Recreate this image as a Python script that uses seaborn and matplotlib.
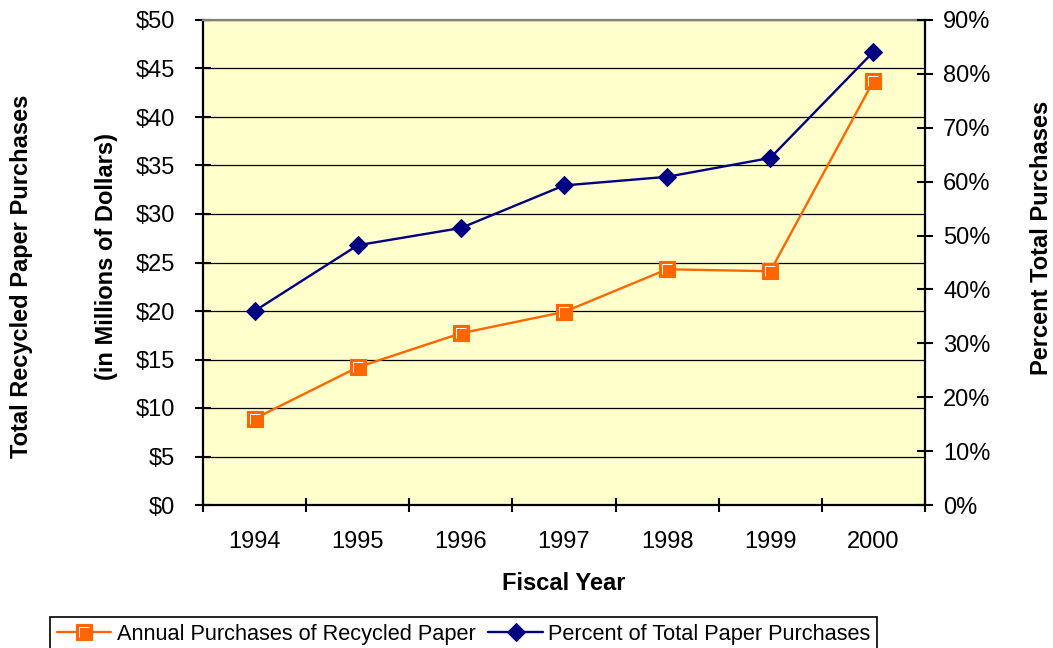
import matplotlib
matplotlib.use("Agg")
import matplotlib.pyplot as plt
import seaborn as sns
import numpy as np
import pandas as pd
from matplotlib.path import Path
from matplotlib.ticker import FixedLocator, FuncFormatter, MultipleLocator
from matplotlib.legend_handler import HandlerTuple

# ---- data ----
years = [1994, 1995, 1996, 1997, 1998, 1999, 2000]
recycled_musd = [8.9, 14.2, 17.7, 19.9, 24.3, 24.1, 43.7]
percent_total = [36.0, 48.2, 51.4, 59.3, 60.9, 64.4, 84.1]
series_names = ["Annual Purchases of Recycled Paper", "Percent of Total Paper Purchases"]

sns.set_theme(style="white")
plt.rcParams['font.family'] = ['Liberation Sans', 'DejaVu Sans']
plt.rcParams.update({"text.color": "black", "axes.labelcolor": "black",
                     "xtick.color": "black", "ytick.color": "black"})

ORANGE = "#FF6600"
NAVY = "#000080"
BG = "#FFFFCC"

W, H = 1053, 648
fig = plt.figure(figsize=(W / 100, H / 100), dpi=100)
ax = fig.add_axes([203 / W, 1 - 505 / H, 722 / W, 485 / H])
ax.set_facecolor(BG)

df = pd.DataFrame({"year": years, "usd": recycled_musd, "pct": percent_total})

sns.lineplot(data=df, x="year", y="usd", ax=ax, color=ORANGE, lw=1.7,
             marker="s", markersize=11.5, markerfacecolor=ORANGE,
             markeredgecolor=ORANGE, markeredgewidth=0.8, legend=False, zorder=3)
l_orange = ax.lines[-1]
# white highlight "L" inside square markers
Lpath = Path([(-1, -1), (-1, 1), (1, 1)], [Path.MOVETO, Path.LINETO, Path.LINETO])
sns.lineplot(data=df, x="year", y="usd", ax=ax, color="white", lw=0,
             marker=Lpath, markersize=7.5, markerfacecolor="none",
             markeredgecolor="white", markeredgewidth=0.7, legend=False, zorder=4)
l_hl = ax.lines[-1]
l_hl.set_linestyle("none")

ax.set_xlim(1993.5, 2000.5)
ax.set_ylim(0, 50)
ax.yaxis.set_major_locator(MultipleLocator(5))
ax.yaxis.set_major_formatter(FuncFormatter(lambda v, p: f"${v:.0f}"))
ax.grid(axis="y", color="black", lw=0.9)
ax.grid(axis="x", visible=False)
ax.set_axisbelow(True)

ax.xaxis.set_major_locator(FixedLocator(years))
ax.xaxis.set_major_formatter(FuncFormatter(lambda v, p: f"{int(round(v))}"))
ax.xaxis.set_minor_locator(FixedLocator(np.arange(1993.5, 2001, 1.0)))
ax.tick_params(axis="x", which="major", length=0, pad=19, labelsize=17, colors="black")
ax.tick_params(axis="x", which="minor", length=10, width=1.5, direction="inout", bottom=True, color="black")
ax.tick_params(axis="y", which="major", length=12, width=1.5, direction="inout", left=True,
               pad=14, labelsize=17, colors="black")
ax.set_xlabel("")
ax.set_ylabel("")

for s in ["left", "bottom"]:
    ax.spines[s].set_color("black")
    ax.spines[s].set_linewidth(1.6)
ax.spines["top"].set_color("#808080")
ax.spines["top"].set_linewidth(1.6)
ax.spines["right"].set_visible(False)

ax2 = ax.twinx()
sns.lineplot(data=df, x="year", y="pct", ax=ax2, color=NAVY, lw=1.7,
             marker="D", markersize=9, markerfacecolor=NAVY,
             markeredgecolor=NAVY, legend=False, zorder=3)
l_navy = ax2.lines[-1]
ax2.set_ylim(0, 90)
ax2.yaxis.set_major_locator(MultipleLocator(10))
ax2.yaxis.set_major_formatter(FuncFormatter(lambda v, p: f"{v:.0f}%"))
ax2.tick_params(axis="y", which="major", length=12, width=1.5, direction="inout", right=True,
                pad=7, labelsize=17, colors="black")
ax2.grid(False)
ax2.set_ylabel("")
for s in ["left", "bottom", "top"]:
    ax2.spines[s].set_visible(False)
ax2.spines["right"].set_color("black")
ax2.spines["right"].set_linewidth(1.6)
ax2.set_xlim(1993.5, 2000.5)

# axis titles
fig.text(22 / W, 1 - 276 / H, "Total Recycled Paper Purchases", rotation=90,
         ha="center", va="center", fontsize=17, fontweight="bold", color="black")
fig.text(106 / W, 1 - 257 / H, "(in Millions of Dollars)", rotation=90,
         ha="center", va="center", fontsize=17, fontweight="bold", color="black")
fig.text(1042 / W, 1 - 238 / H, "Percent Total Purchases", rotation=90,
         ha="center", va="center", fontsize=17, fontweight="bold", color="black")
fig.text(564 / W, 1 - 583 / H, "Fiscal Year", ha="center", va="center",
         fontsize=17, fontweight="bold", color="black")

leg = fig.legend([(l_orange, l_hl), l_navy], series_names,
                 handler_map={tuple: HandlerTuple(ndivide=1, pad=0)},
                 loc="upper left", bbox_to_anchor=(50 / W, 1 - 617 / H),
                 ncol=2, fontsize=15.7, frameon=True, fancybox=False,
                 framealpha=1, facecolor="white",
                 edgecolor="black", handlelength=2.5, handletextpad=0.25,
                 columnspacing=0.6, borderpad=0.3, borderaxespad=0,
                 labelcolor="black")
leg.get_frame().set_linewidth(1.2)

fig.savefig("out.png", dpi=100)
